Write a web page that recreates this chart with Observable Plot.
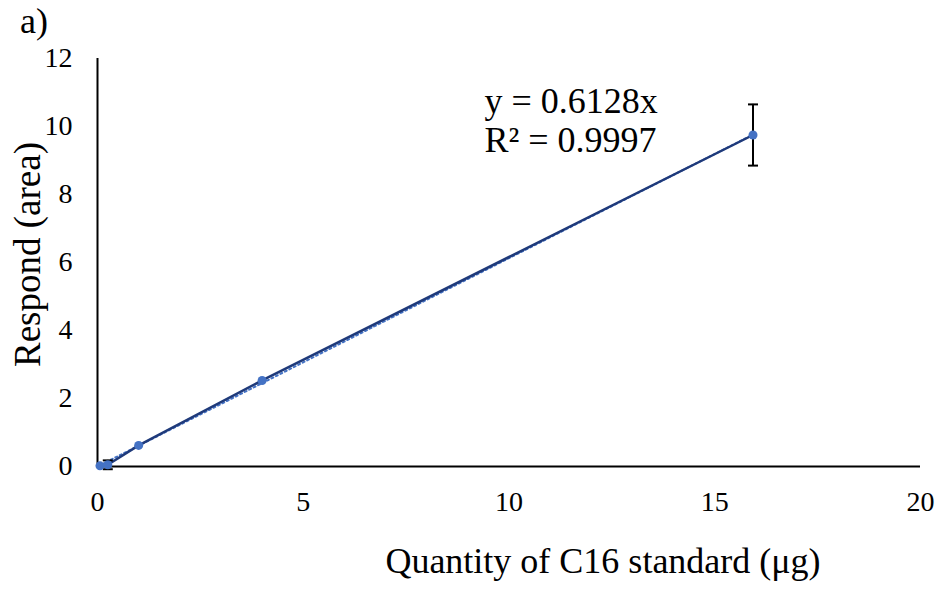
<!DOCTYPE html>
<html>
<head>
<meta charset="utf-8">
<script src="https://cdn.jsdelivr.net/npm/d3@7"></script>
<script src="https://cdn.jsdelivr.net/npm/@observablehq/plot@0.6"></script>
<style>
  html, body { margin: 0; padding: 0; background: #fff; }
  #wrap { position: relative; width: 941px; height: 591px; font-family: "Liberation Serif", "Times New Roman", serif; }
  #panel { position: absolute; left: 20px; top: 3px; font-size: 36px; line-height: 1; color: #000; }
  svg [aria-label$="tick label"], svg [aria-label$="tick label"] text { font-size: 28px !important; fill: #000; }
</style>
</head>
<body>
<div id="wrap">
  <div id="chart"></div>
  <div id="panel">a)</div>
</div>
<script>
const quantity = [0.06, 0.25, 1, 4, 15.93];
const response = [0.02, 0.05, 0.62, 2.53, 9.75];
const errors = [0, 0.13, 0, 0, 0.9];
const slope = 0.6128;
const r2 = 0.9997;
const xTicks = [0, 5, 10, 15, 20];
const yTicks = [0, 2, 4, 6, 8, 10, 12];

const points = quantity.map((q, i) => ({x: q, y: response[i], e: errors[i]}));
const bars = points.filter(d => d.e > 0);
const caps = bars.flatMap(d => [{x: d.x, y: d.y + d.e}, {x: d.x, y: d.y - d.e}]);
const xMax = d3.max(quantity);
const trend = [{x: 0, y: 0}, {x: xMax, y: slope * xMax}];

const hline = {
  draw(context, size) {
    const r = Math.sqrt(size / Math.PI);
    context.moveTo(-r, 0);
    context.lineTo(r, 0);
  }
};

const chart = Plot.plot({
  width: 941,
  height: 591,
  marginLeft: 97,
  marginRight: 21,
  marginTop: 58,
  marginBottom: 125,
  style: {fontFamily: "'Liberation Serif', 'Times New Roman', serif", background: "#fff", color: "#000"},
  x: {domain: [0, 20], ticks: xTicks},
  y: {domain: [0, 12], ticks: yTicks},
  marks: [
    Plot.axisX({ticks: xTicks, tickSize: 0, tickPadding: 25, fontSize: 28, label: null}),
    Plot.axisY({ticks: yTicks, tickSize: 0, tickPadding: 25, fontSize: 28, label: null}),
    Plot.ruleY([0], {stroke: "#000", strokeWidth: 2}),
    Plot.ruleX([0], {stroke: "#000", strokeWidth: 2}),
    Plot.line(trend, {x: "x", y: "y", stroke: "#4472C4", strokeWidth: 2, strokeDasharray: "2,3"}),
    Plot.line(points, {x: "x", y: "y", stroke: "#1F3A7A", strokeWidth: 2.5}),
    Plot.ruleX(bars, {x: "x", y1: d => d.y - d.e, y2: d => d.y + d.e, stroke: "#000", strokeWidth: 2}),
    Plot.dot(caps, {x: "x", y: "y", symbol: hline, r: 5, stroke: "#000", strokeWidth: 2}),
    Plot.dot(points, {x: "x", y: "y", r: 4.5, fill: "#4472C4", stroke: "none"}),
    Plot.text([`y = ${slope}x\nR² = ${r2}`], {frameAnchor: "top-left", dx: 387, dy: 27, textAnchor: "start", lineAnchor: "top", fontSize: 36, lineHeight: 1.08, fill: "#000"}),
    Plot.text(["Quantity of C16 standard (μg)"], {frameAnchor: "bottom", dx: 94, dy: 106, fontSize: 36, fill: "#000"}),
    Plot.text(["Respond (area)"], {frameAnchor: "left", textAnchor: "middle", dx: -69, dy: -8, rotate: -90, fontSize: 37, fill: "#000"})
  ]
});
document.getElementById("chart").appendChild(chart);
</script>
</body>
</html>
